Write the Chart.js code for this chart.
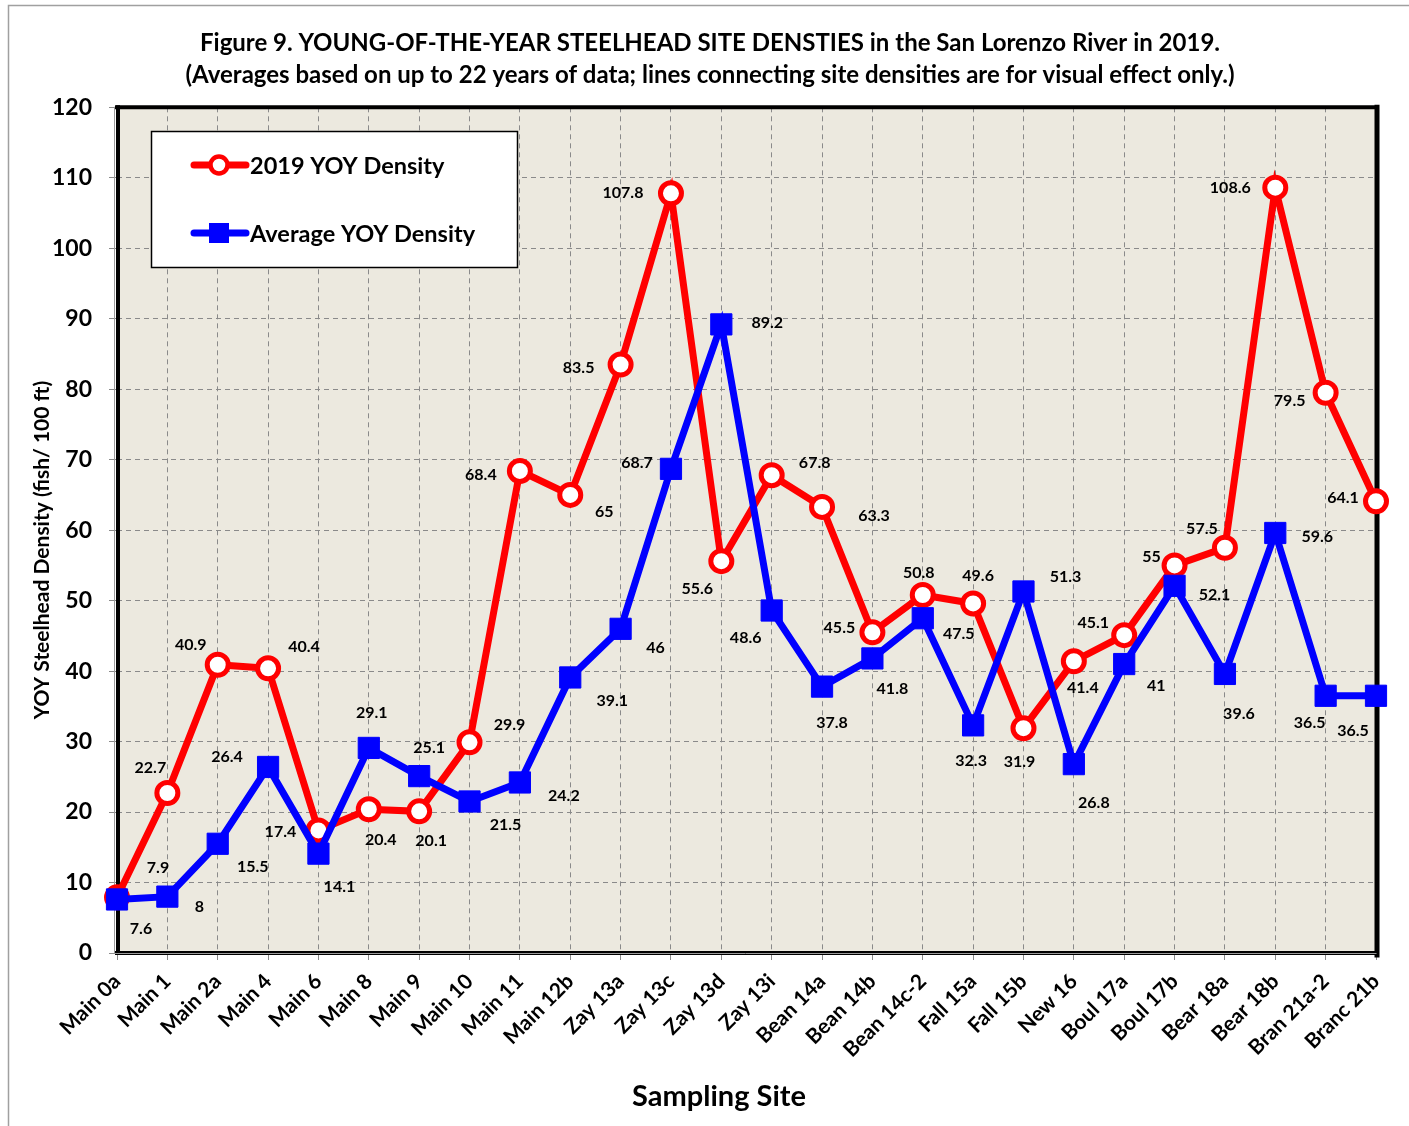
<!DOCTYPE html>
<html>
<head>
<meta charset="utf-8">
<script src="https://cdn.jsdelivr.net/npm/chart.js@4.4.1/dist/chart.umd.min.js"></script>
<style>
  html, body { margin: 0; padding: 0; background: #fff; }
</style>
</head>
<body>
<canvas id="yoyChart" width="1409" height="1126"></canvas>
<script>
// sampling sites along the river
const sites = [
    'Main 0a', 'Main 1', 'Main 2a', 'Main 4', 'Main 6', 'Main 8', 'Main 9', 'Main 10',
    'Main 11', 'Main 12b', 'Zay 13a', 'Zay 13c', 'Zay 13d', 'Zay 13i', 'Bean 14a',
    'Bean 14b', 'Bean 14c-2', 'Fall 15a', 'Fall 15b', 'New 16', 'Boul 17a', 'Boul 17b',
    'Bear 18a', 'Bear 18b', 'Bran 21a-2', 'Branc 21b'
];

const yoy2019 = [
    7.9, 22.7, 40.9, 40.4, 17.4, 20.4, 20.1, 29.9, 68.4, 65, 83.5, 107.8, 55.6,
    67.8, 63.3, 45.5, 50.8, 49.6, 31.9, 41.4, 45.1, 55, 57.5, 108.6, 79.5, 64.1
];

const yoyAverage = [
    7.6, 8, 15.5, 26.4, 14.1, 29.1, 25.1, 21.5, 24.2, 39.1, 46, 68.7, 89.2,
    48.6, 37.8, 41.8, 47.5, 32.3, 51.3, 26.8, 41, 52.1, 39.6, 59.6, 36.5, 36.5
];

const yMin = 0;
const yMax = 120;
const yStep = 10;

// where each value label sits, relative to its point (px)
const labelShift2019 = [
    [41, -29], [-17, -25], [-27, -20], [36, -21], [-38, 1], [12, 31], [12, 29], [40, -17],
    [-39, 4], [34, 17], [-42, 3], [-48, 0], [-24, 28], [43, -12], [52, 9], [-33, -5],
    [-4, -22], [5, -28], [-4, 34], [9, 27], [-31, -12], [-23, -9], [-23, -19], [-45, 0],
    [-36, 8], [-33, -3]
];
const labelShiftAverage = [
    [24, 29], [32, 10], [35, 23], [-41, -10], [21, 33], [3, -35], [10, -28], [36, 23],
    [44, 13], [42, 23], [35, 19], [-34, -6], [46, -2], [-26, 27], [10, 36], [20, 30],
    [36, 16], [-2, 35], [42, -15], [20, 39], [32, 22], [40, 9], [14, 40], [42, 4],
    [-16, 27], [-23, 35]
];

const RED = '#FF0000';
const BLUE = '#0000FF';
const FONT = 'Lato, "Open Sans", sans-serif';

Chart.defaults.font.family = FONT;
Chart.defaults.font.weight = 'bold';
Chart.defaults.color = '#000';

const pagePlugin = {
    id: 'page',
    beforeDraw: (chart) => {
        const ctx = chart.ctx;
        const { top, left, width, height } = chart.chartArea;
        ctx.save();
        ctx.fillStyle = '#fff';
        ctx.fillRect(0, 0, chart.width, chart.height);
        ctx.strokeStyle = '#a0a0a0';
        ctx.lineWidth = 1.5;
        ctx.strokeRect(8.5, 5.5, chart.width + 20, chart.height + 20);
        ctx.fillStyle = '#ECE9DF';
        ctx.fillRect(left, top, width, height);
        ctx.restore();
    },
    beforeDatasetsDraw: (chart) => {
        const ctx = chart.ctx;
        const { top, left, right, bottom } = chart.chartArea;
        ctx.save();
        ctx.strokeStyle = '#000';
        ctx.lineCap = 'square';
        // top and right
        ctx.lineWidth = 4;
        ctx.beginPath();
        ctx.moveTo(left, top);
        ctx.lineTo(right + 1, top);
        ctx.stroke();
        ctx.lineWidth = 5;
        ctx.beginPath();
        ctx.moveTo(right + 1, top);
        ctx.lineTo(right + 1, bottom + 2);
        ctx.stroke();
        // bottom and left, double line
        ctx.lineWidth = 4;
        ctx.beginPath();
        ctx.moveTo(left, bottom);
        ctx.lineTo(right + 1, bottom);
        ctx.moveTo(left + 1, top);
        ctx.lineTo(left + 1, bottom);
        ctx.stroke();
        ctx.strokeStyle = '#9a9a9a';
        ctx.lineWidth = 1;
        ctx.beginPath();
        ctx.moveTo(left - 2, bottom + 0.5);
        ctx.lineTo(right, bottom + 0.5);
        ctx.moveTo(left - 2.5, top);
        ctx.lineTo(left - 2.5, bottom);
        ctx.stroke();
        ctx.restore();
    },
    afterDraw: (chart) => {
        // axis titles, placed like the original sheet
        const ctx = chart.ctx;
        ctx.save();
        ctx.fillStyle = '#000';
        ctx.textAlign = 'center';
        ctx.textBaseline = 'middle';
        ctx.font = 'bold 29px ' + FONT;
        ctx.fillText('Sampling Site', 719, 1097);
        ctx.translate(42, 550);
        ctx.rotate(-Math.PI / 2);
        ctx.font = 'bold 21px ' + FONT;
        ctx.fillText('YOY Steelhead Density (fish/ 100 ft)', 0, 0);
        ctx.restore();
    }
};

const legendBoxPlugin = {
    id: 'legendBox',
    afterDatasetsDraw: (chart) => {
        const ctx = chart.ctx;
        ctx.save();
        ctx.fillStyle = '#fff';
        ctx.fillRect(151, 131, 366, 136);
        ctx.strokeStyle = '#000';
        ctx.lineWidth = 1.5;
        ctx.strokeRect(151.5, 131.5, 366, 136);

        const rows = [
            { y: 165, color: RED, text: '2019 YOY Density', square: false },
            { y: 233, color: BLUE, text: 'Average YOY Density', square: true }
        ];
        rows.forEach(r => {
            ctx.strokeStyle = r.color;
            ctx.lineWidth = 7;
            ctx.lineCap = 'round';
            ctx.beginPath();
            ctx.moveTo(194, r.y);
            ctx.lineTo(246, r.y);
            ctx.stroke();
            if (r.square) {
                ctx.fillStyle = r.color;
                ctx.fillRect(209, r.y - 10, 20, 20);
            } else {
                ctx.fillStyle = '#fff';
                ctx.lineWidth = 4.5;
                ctx.beginPath();
                ctx.arc(219, r.y, 8.5, 0, Math.PI * 2);
                ctx.fill();
                ctx.stroke();
            }
            ctx.fillStyle = '#000';
            ctx.font = 'bold 23.5px ' + FONT;
            ctx.textBaseline = 'middle';
            ctx.textAlign = 'left';
            ctx.fillText(r.text, 250, r.y + 1);
        });
        ctx.restore();
    }
};

const valueLabelPlugin = {
    id: 'valueLabels',
    afterDatasetsDraw: (chart) => {
        const ctx = chart.ctx;
        const shifts = [labelShift2019, labelShiftAverage];
        ctx.save();
        ctx.font = 'bold 16px ' + FONT;
        ctx.fillStyle = '#000';
        ctx.textAlign = 'center';
        ctx.textBaseline = 'middle';
        chart.data.datasets.forEach((ds, i) => {
            const meta = chart.getDatasetMeta(i);
            meta.data.forEach((pt, j) => {
                const s = shifts[i][j];
                ctx.fillText(String(ds.data[j]), pt.x + s[0], pt.y + s[1]);
            });
        });
        ctx.restore();
    }
};

const yoyChart = new Chart(document.getElementById('yoyChart'), {
    type: 'line',
    data: {
        labels: sites,
        datasets: [{
            label: '2019 YOY Density',
            data: yoy2019,
            borderColor: RED,
            borderWidth: 7,
            pointStyle: 'circle',
            pointRadius: 10.5,
            pointHoverRadius: 10.5,
            pointBorderWidth: 5,
            pointBorderColor: RED,
            pointBackgroundColor: '#fff',
            tension: 0,
            order: 1,
            clip: false
        }, {
            label: 'Average YOY Density',
            data: yoyAverage,
            borderColor: BLUE,
            borderWidth: 7,
            pointStyle: 'rect',
            pointRadius: 15,
            pointHoverRadius: 15,
            pointBorderWidth: 1,
            pointBorderColor: BLUE,
            pointBackgroundColor: BLUE,
            tension: 0,
            order: 0,
            clip: false
        }]
    },
    plugins: [pagePlugin, legendBoxPlugin, valueLabelPlugin],
    options: {
        responsive: false,
        animation: false,
        layout: {
            padding: { left: 44, right: 33, top: 0, bottom: 0 }
        },
        plugins: {
            legend: { display: false },
            tooltip: { enabled: false },
            title: {
                display: true,
                text: [
                    'Figure 9. YOUNG-OF-THE-YEAR STEELHEAD SITE DENSTIES in the San Lorenzo River in 2019.',
                    '(Averages based on up to 22 years of data; lines connecting site densities are for visual effect only.)'
                ],
                color: '#000',
                font: { size: 24, weight: 'bold', lineHeight: 1.34 },
                padding: { top: 27, bottom: 16 }
            }
        },
        scales: {
            x: {
                type: 'category',
                offset: false,
                afterFit: (scale) => { scale.height = 173; },
                grid: {
                    offset: false,
                    color: '#8a8a8a',
                    lineWidth: 1,
                    tickLength: 7,
                    tickColor: '#8a8a8a'
                },
                border: { display: false, dash: [5, 4] },
                ticks: {
                    autoSkip: false,
                    maxRotation: 45,
                    minRotation: 45,
                    padding: 9,
                    font: { size: 21, weight: 'bold' }
                }
            },
            y: {
                min: yMin,
                max: yMax,
                afterFit: (scale) => { scale.width = 73; },
                grid: {
                    color: '#8a8a8a',
                    lineWidth: 1,
                    tickLength: 8,
                    tickColor: '#8a8a8a'
                },
                border: { display: false, dash: [5, 4] },
                ticks: {
                    stepSize: yStep,
                    padding: 17,
                    font: { size: 23, weight: 'bold' }
                }
            }
        }
    }
});
</script>
</body>
</html>
